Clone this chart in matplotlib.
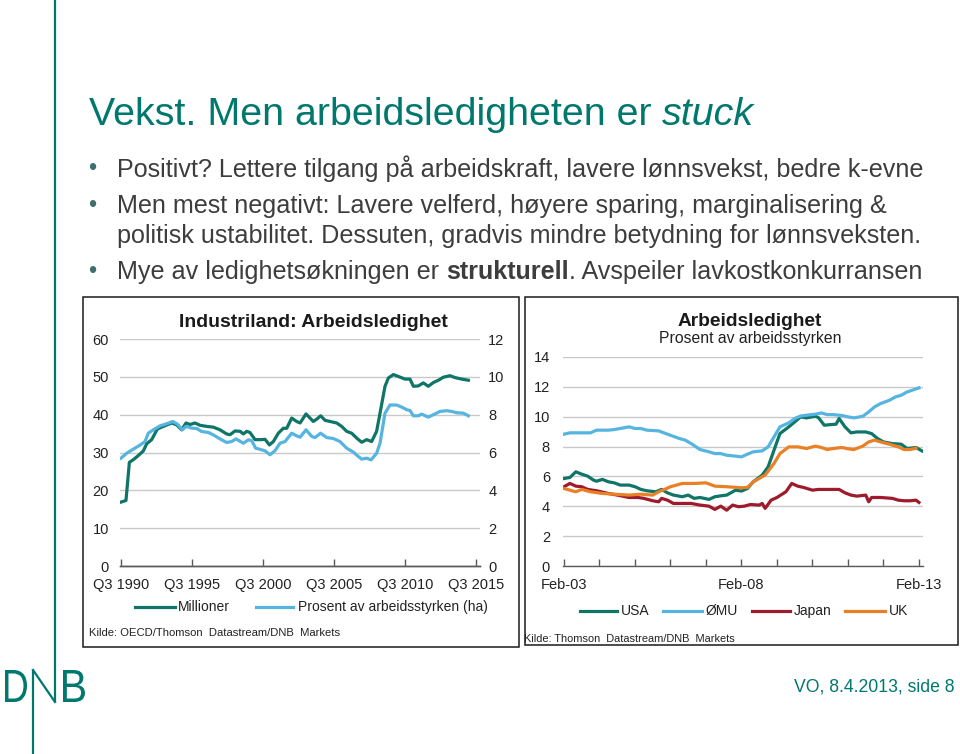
import matplotlib
matplotlib.use('Agg')
import matplotlib.pyplot as plt
from matplotlib.patches import Rectangle, PathPatch
from matplotlib.textpath import TextPath
from matplotlib.font_manager import FontProperties
from matplotlib.transforms import Affine2D

plt.rcParams['font.family'] = ['Liberation Sans', 'DejaVu Sans']

# ---------------- data: left chart (OECD unemployment) ----------------
mill_years = [1990.50, 1990.85, 1991.09, 1991.37, 1991.72, 1992.07, 1992.31, 1992.66, 1993.06, 1993.48,
              1994.07, 1994.42, 1994.77, 1995.08, 1995.36, 1995.71, 1996.06, 1996.53, 1997.00, 1997.47,
              1997.94, 1998.18, 1998.53, 1998.88, 1999.12, 1999.35, 1999.58, 1999.94, 2000.41, 2000.64,
              2000.95, 2001.23, 2001.58, 2001.93, 2002.17, 2002.52, 2002.87, 2003.11, 2003.53, 2003.81,
              2004.04, 2004.28, 2004.56, 2004.87, 2005.34, 2005.69, 2006.04, 2006.39, 2006.74, 2007.10,
              2007.45, 2007.80, 2008.15, 2008.50, 2008.74, 2009.09, 2009.33, 2009.68, 2010.03, 2010.50,
              2010.85, 2011.09, 2011.44, 2011.79, 2012.14, 2012.50, 2012.85, 2013.20, 2013.67, 2014.02,
              2014.49, 2014.96]
mill_vals = [16.9, 17.3, 27.4, 28.1, 29.2, 30.4, 32.3, 33.4, 36.2, 36.9,
             37.8, 37.3, 36.0, 37.8, 37.4, 37.8, 37.2, 36.9, 36.7, 36.0,
             34.9, 34.7, 35.7, 35.6, 34.9, 35.6, 35.3, 33.4, 33.4, 33.5,
             32.0, 32.9, 35.1, 36.4, 36.4, 39.1, 38.2, 37.8, 40.2, 39.1,
             38.2, 38.8, 39.7, 38.5, 38.1, 37.8, 36.9, 35.6, 35.1, 33.8,
             32.7, 33.4, 32.9, 35.6, 40.4, 47.5, 49.7, 50.6, 50.1, 49.4,
             49.4, 47.5, 47.6, 48.4, 47.5, 48.5, 49.1, 49.9, 50.3, 49.8,
             49.4, 49.1]

pct_years = [1990.50, 1990.90, 1991.37, 1991.84, 1992.19, 1992.42, 1992.78, 1993.25, 1993.72, 1994.14,
             1994.47, 1994.82, 1995.08, 1995.48, 1995.83, 1996.18, 1996.65, 1997.00, 1997.47, 1997.94,
             1998.29, 1998.60, 1999.12, 1999.47, 1999.70, 1999.98, 2000.41, 2000.64, 2000.99, 2001.34,
             2001.70, 2002.05, 2002.52, 2002.87, 2003.11, 2003.53, 2003.93, 2004.16, 2004.56, 2004.98,
             2005.45, 2005.92, 2006.39, 2006.86, 2007.21, 2007.45, 2007.80, 2008.11, 2008.50, 2008.74,
             2009.09, 2009.44, 2009.91, 2010.27, 2010.62, 2010.85, 2011.09, 2011.44, 2011.67, 2012.14,
             2012.50, 2012.96, 2013.43, 2013.79, 2014.14, 2014.61, 2014.96]
pct_vals = [5.70, 5.96, 6.18, 6.39, 6.58, 7.02, 7.20, 7.41, 7.52, 7.64,
            7.50, 7.20, 7.38, 7.29, 7.27, 7.11, 7.06, 6.93, 6.72, 6.53,
            6.58, 6.72, 6.49, 6.67, 6.63, 6.23, 6.14, 6.09, 5.88, 6.09,
            6.49, 6.58, 7.02, 6.88, 6.81, 7.20, 6.85, 6.79, 7.02, 6.79,
            6.74, 6.58, 6.23, 6.02, 5.79, 5.65, 5.70, 5.61, 5.96, 6.49,
            8.08, 8.51, 8.51, 8.40, 8.26, 8.22, 7.94, 7.94, 8.03, 7.87,
            8.00, 8.17, 8.21, 8.17, 8.10, 8.08, 7.94]

left_ticks = [1990.5, 1995.5, 2000.5, 2005.5, 2010.5, 2015.5]
left_ticklabels = ['Q3 1990', 'Q3 1995', 'Q3 2000', 'Q3 2005', 'Q3 2010', 'Q3 2015']

# ---------------- data: right chart (months since Feb-03) ----------------
emu_m = [0, 2, 9, 11, 15, 17, 22, 24, 26, 28, 32, 35, 39, 41, 43, 46, 49, 51, 53, 55, 58, 60, 62, 64,
         67, 69, 71, 73, 76, 78, 80, 82, 85, 87, 89, 91, 94, 96, 98, 101, 103, 105, 107, 110, 112, 114, 116, 120]
emu_v = [8.83, 8.92, 8.92, 9.10, 9.10, 9.14, 9.32, 9.21, 9.21, 9.10, 9.05, 8.83, 8.54, 8.43, 8.20, 7.80,
         7.65, 7.53, 7.53, 7.42, 7.36, 7.31, 7.49, 7.65, 7.71, 7.98, 8.65, 9.32, 9.59, 9.88, 10.05, 10.10,
         10.17, 10.25, 10.14, 10.14, 10.08, 9.99, 9.92, 10.03, 10.32, 10.66, 10.88, 11.10, 11.32, 11.44,
         11.66, 11.93]

usa_m = [0, 2, 4, 6, 8, 10, 11, 13, 15, 17, 19, 22, 24, 26, 28, 31, 33, 35, 37, 40, 42, 44, 46, 49,
         51, 53, 55, 58, 60, 62, 64, 67, 69, 71, 73, 76, 78, 80, 82, 85, 86, 88, 90, 92, 93, 95, 97, 99,
         102, 104, 106, 108, 111, 114, 116, 119, 121]
usa_v = [5.86, 5.93, 6.31, 6.15, 6.02, 5.75, 5.68, 5.80, 5.64, 5.57, 5.42, 5.42, 5.31, 5.13, 5.04, 4.97,
         5.13, 4.90, 4.75, 4.64, 4.75, 4.53, 4.59, 4.46, 4.64, 4.70, 4.75, 5.08, 5.02, 5.19, 5.64, 6.09,
         6.64, 7.76, 8.87, 9.32, 9.65, 9.99, 9.92, 10.03, 9.94, 9.43, 9.47, 9.50, 9.88, 9.32, 8.92, 8.98,
         8.98, 8.87, 8.54, 8.31, 8.20, 8.16, 7.87, 7.94, 7.71]

jpn_m = [0, 2, 4, 6, 8, 11, 15, 18, 22, 25, 27, 30, 32, 33, 35, 37, 40, 43, 46, 49, 51, 53, 55, 57,
         59, 61, 63, 66, 67, 68, 70, 72, 75, 77, 79, 81, 84, 86, 88, 90, 93, 95, 97, 99, 102, 103, 104,
         107, 111, 113, 115, 117, 119, 120]
jpn_v = [5.31, 5.53, 5.35, 5.31, 5.13, 5.04, 4.86, 4.75, 4.59, 4.59, 4.53, 4.37, 4.30, 4.53, 4.41, 4.19,
         4.19, 4.19, 4.08, 4.01, 3.79, 4.01, 3.74, 4.08, 3.97, 4.01, 4.12, 4.08, 4.19, 3.86, 4.41, 4.59,
         4.97, 5.53, 5.35, 5.26, 5.08, 5.13, 5.13, 5.13, 5.13, 4.90, 4.75, 4.68, 4.75, 4.30, 4.59, 4.59,
         4.53, 4.41, 4.37, 4.37, 4.41, 4.26]

uk_m = [0, 2, 4, 6, 9, 13, 17, 22, 26, 30, 32, 34, 36, 40, 44, 48, 51, 55, 60, 62, 64, 68, 71, 73,
        76, 79, 82, 85, 87, 89, 91, 94, 96, 98, 101, 103, 105, 107, 110, 113, 115, 117, 119]
uk_v = [5.19, 5.08, 4.97, 5.13, 4.97, 4.86, 4.81, 4.75, 4.81, 4.75, 4.97, 5.13, 5.31, 5.53, 5.53, 5.57,
        5.35, 5.31, 5.24, 5.26, 5.64, 6.09, 6.87, 7.53, 7.98, 7.98, 7.87, 8.03, 7.94, 7.80, 7.87, 7.94,
        7.85, 7.80, 8.03, 8.31, 8.43, 8.31, 8.16, 7.98, 7.80, 7.80, 7.89]

right_major = [0, 60, 120]
right_major_labels = ['Feb-03', 'Feb-08', 'Feb-13']
right_minor = [12, 24, 36, 48, 72, 84, 96, 108]

# ---------------- styling ----------------
TEAL_TXT = '#00786e'
TEAL = '#0f7566'
LBLUE = '#56b4e0'
DRED = '#9e1b2b'
ORANGE = '#ea8026'
GRID = '#c9c9c9'
AXC = '#595959'
TXT = '#3d3d3d'
LW = 2.3

W, H = 960, 754
fig = plt.figure(figsize=(9.6, 7.54), dpi=100)
fig.patch.set_facecolor('white')
ov = fig.add_axes([0, 0, 1, 1])
ov.set_xlim(0, W)
ov.set_ylim(H, 0)
ov.axis('off')
ov.set_zorder(0)
renderer = fig.canvas.get_renderer()


def twidth(s, fs, **kw):
    t = ov.text(0, 0, '|' + s + '|', fontsize=fs, **kw)
    t2 = ov.text(0, 0, '||', fontsize=fs, **kw)
    w = t.get_window_extent(renderer).width - t2.get_window_extent(renderer).width
    t.remove(); t2.remove()
    return w


def fit(x, y, s, width, ha='left', va='baseline', base=12, **kw):
    w = twidth(s, base, **kw)
    return ov.text(x, y, s, fontsize=base * width / w, ha=ha, va=va, **kw)


def runs(x, y, parts, width, color, base=16):
    ws = [twidth(s, base, **kw) for s, kw in parts]
    sc = width / sum(ws)
    cx = x
    for (s, kw), w in zip(parts, ws):
        ov.text(cx, y, s, fontsize=base * sc, ha='left', va='baseline', color=color, **kw)
        cx += w * sc


# ---------------- slide decorations ----------------
ov.plot([55, 55], [0, 702], color=TEAL_TXT, lw=1.6, solid_capstyle='butt')
ov.plot([33, 33], [670, 754], color=TEAL_TXT, lw=1.6, solid_capstyle='butt')
ov.plot([33, 55], [670, 702], color=TEAL_TXT, lw=1.6)
fp = FontProperties(family='Liberation Sans')
for ch, x0, x1 in [('D', 5, 27), ('B', 63, 85)]:
    tp = TextPath((0, 0), ch, size=1, prop=fp)
    ext = tp.get_extents()
    sx = (x1 - x0) / ext.width
    sy = 32 / ext.height
    tr = Affine2D().translate(-ext.x0, -ext.y0).scale(sx, -sy).translate(x0, 702) + ov.transData
    ov.add_patch(PathPatch(tp, transform=tr, facecolor=TEAL_TXT, edgecolor='none'))

runs(89, 125, [('Vekst. Men arbeidsledigheten er ', {}), ('stuck', {'style': 'italic'})], 665, TEAL_TXT, base=27)

for yb in [176.5, 213, 279]:
    ov.text(92, yb - 7, '•', fontsize=17, ha='center', va='center', color='#3f6f6d')
runs(117, 176.5, [('Positivt? Lettere tilgang på arbeidskraft, lavere lønnsvekst, bedre k-evne', {})], 806, TXT)
runs(117, 213, [('Men mest negativt: Lavere velferd, høyere sparing, marginalisering &', {})], 769, TXT)
runs(117, 243.5, [('politisk ustabilitet. Dessuten, gradvis mindre betydning for lønnsveksten.', {})], 804, TXT)
runs(117, 279, [('Mye av ledighetsøkningen er ', {}), ('strukturell', {'weight': 'bold'}),
                ('. Avspeiler lavkostkonkurransen', {})], 806, TXT)

fit(955, 692, 'VO, 8.4.2013, side 8', 160, ha='right', color=TEAL_TXT, base=13)

ov.add_patch(Rectangle((83, 297), 436, 350, facecolor='none', edgecolor='#1a1a1a', lw=1.1))
ov.add_patch(Rectangle((525, 297), 433, 348, facecolor='none', edgecolor='#1a1a1a', lw=1.1))


def style_axes(ax):
    ax.set_facecolor('none')
    for sp in ['top', 'left', 'right']:
        ax.spines[sp].set_visible(False)
    ax.spines['bottom'].set_color(AXC)
    ax.spines['bottom'].set_linewidth(1.0)


# ---------------- left chart ----------------
axL = fig.add_axes([120 / W, 1 - 566 / H, 360 / W, 227 / H])
axL.set_zorder(2)
style_axes(axL)
axL.plot(mill_years, mill_vals, color=TEAL, lw=LW, solid_joinstyle='round')
axL.set_xlim(1990.43, 2015.78)
axL.set_ylim(0, 60)
axL.set_yticks([0, 10, 20, 30, 40, 50, 60])
axL.yaxis.grid(True, color=GRID, lw=1)
axL.set_axisbelow(True)
axL.set_xticks(left_ticks)
axL.set_xticklabels(left_ticklabels)
axL.tick_params(axis='x', direction='in', length=5, width=1, color=AXC, pad=8.5, labelsize=10.5, labelcolor='#222222')
axL.tick_params(axis='y', length=0, pad=8, labelsize=10.5, labelcolor='#222222')

axL2 = axL.twinx()
style_axes(axL2)
axL2.plot(pct_years, pct_vals, color=LBLUE, lw=LW, solid_joinstyle='round')
axL2.set_ylim(0, 12)
axL2.set_yticks([0, 2, 4, 6, 8, 10, 12])
axL2.tick_params(axis='y', length=0, pad=6, labelsize=10.5, labelcolor='#222222')

fit(313, 327, 'Industriland: Arbeidsledighet', 267, ha='center', weight='bold', color='#1a1a1a')
ov.plot([135, 175], [607, 607], color=TEAL, lw=LW)
ov.text(178, 607, 'Millioner', fontsize=10, va='center', ha='left', color='#222222')
ov.plot([256, 293], [607, 607], color=LBLUE, lw=LW)
ov.text(298, 607, 'Prosent av arbeidsstyrken (ha)', fontsize=10, va='center', ha='left', color='#222222')
fit(89, 636, 'Kilde: OECD/Thomson  Datastream/DNB  Markets', 252, color='#222222', base=8)

# ---------------- right chart ----------------
axR = fig.add_axes([562.5 / W, 1 - 566 / H, 360.9 / W, 209 / H])
axR.set_zorder(2)
style_axes(axR)
axR.plot(usa_m, usa_v, color=TEAL, lw=LW, label='USA')
axR.plot(emu_m, emu_v, color=LBLUE, lw=LW, label='ØMU')
axR.plot(jpn_m, jpn_v, color=DRED, lw=LW, label='Japan')
axR.plot(uk_m, uk_v, color=ORANGE, lw=LW, label='UK')
axR.set_xlim(-0.5, 121.5)
axR.set_ylim(0, 14)
axR.set_yticks([0, 2, 4, 6, 8, 10, 12, 14])
axR.yaxis.grid(True, color=GRID, lw=1)
axR.set_axisbelow(True)
axR.set_xticks(right_major)
axR.set_xticklabels(right_major_labels)
axR.set_xticks(right_minor, minor=True)
axR.tick_params(axis='x', which='both', direction='in', length=5, width=1, color=AXC, pad=8.5,
                labelsize=10.5, labelcolor='#222222')
axR.tick_params(axis='y', length=0, pad=9, labelsize=10.5, labelcolor='#222222')

fit(750, 326, 'Arbeidsledighet', 144, ha='center', weight='bold', color='#1a1a1a')
fit(750, 343, 'Prosent av arbeidsstyrken', 182, ha='center', color='#222222')
for (x0, x1, col, lab) in [(580, 617, TEAL, 'USA'), (663, 702, LBLUE, 'ØMU'),
                           (752, 790, DRED, 'Japan'), (845, 885, ORANGE, 'UK')]:
    ov.plot([x0, x1], [611, 611], color=col, lw=LW)
    ov.text(x1 + 4, 611, lab, fontsize=10, va='center', ha='left', color='#222222')
fit(524, 642, 'Kilde: Thomson  Datastream/DNB  Markets', 212, color='#222222', base=8)

fig.savefig('out.png', dpi=100, facecolor='white')
